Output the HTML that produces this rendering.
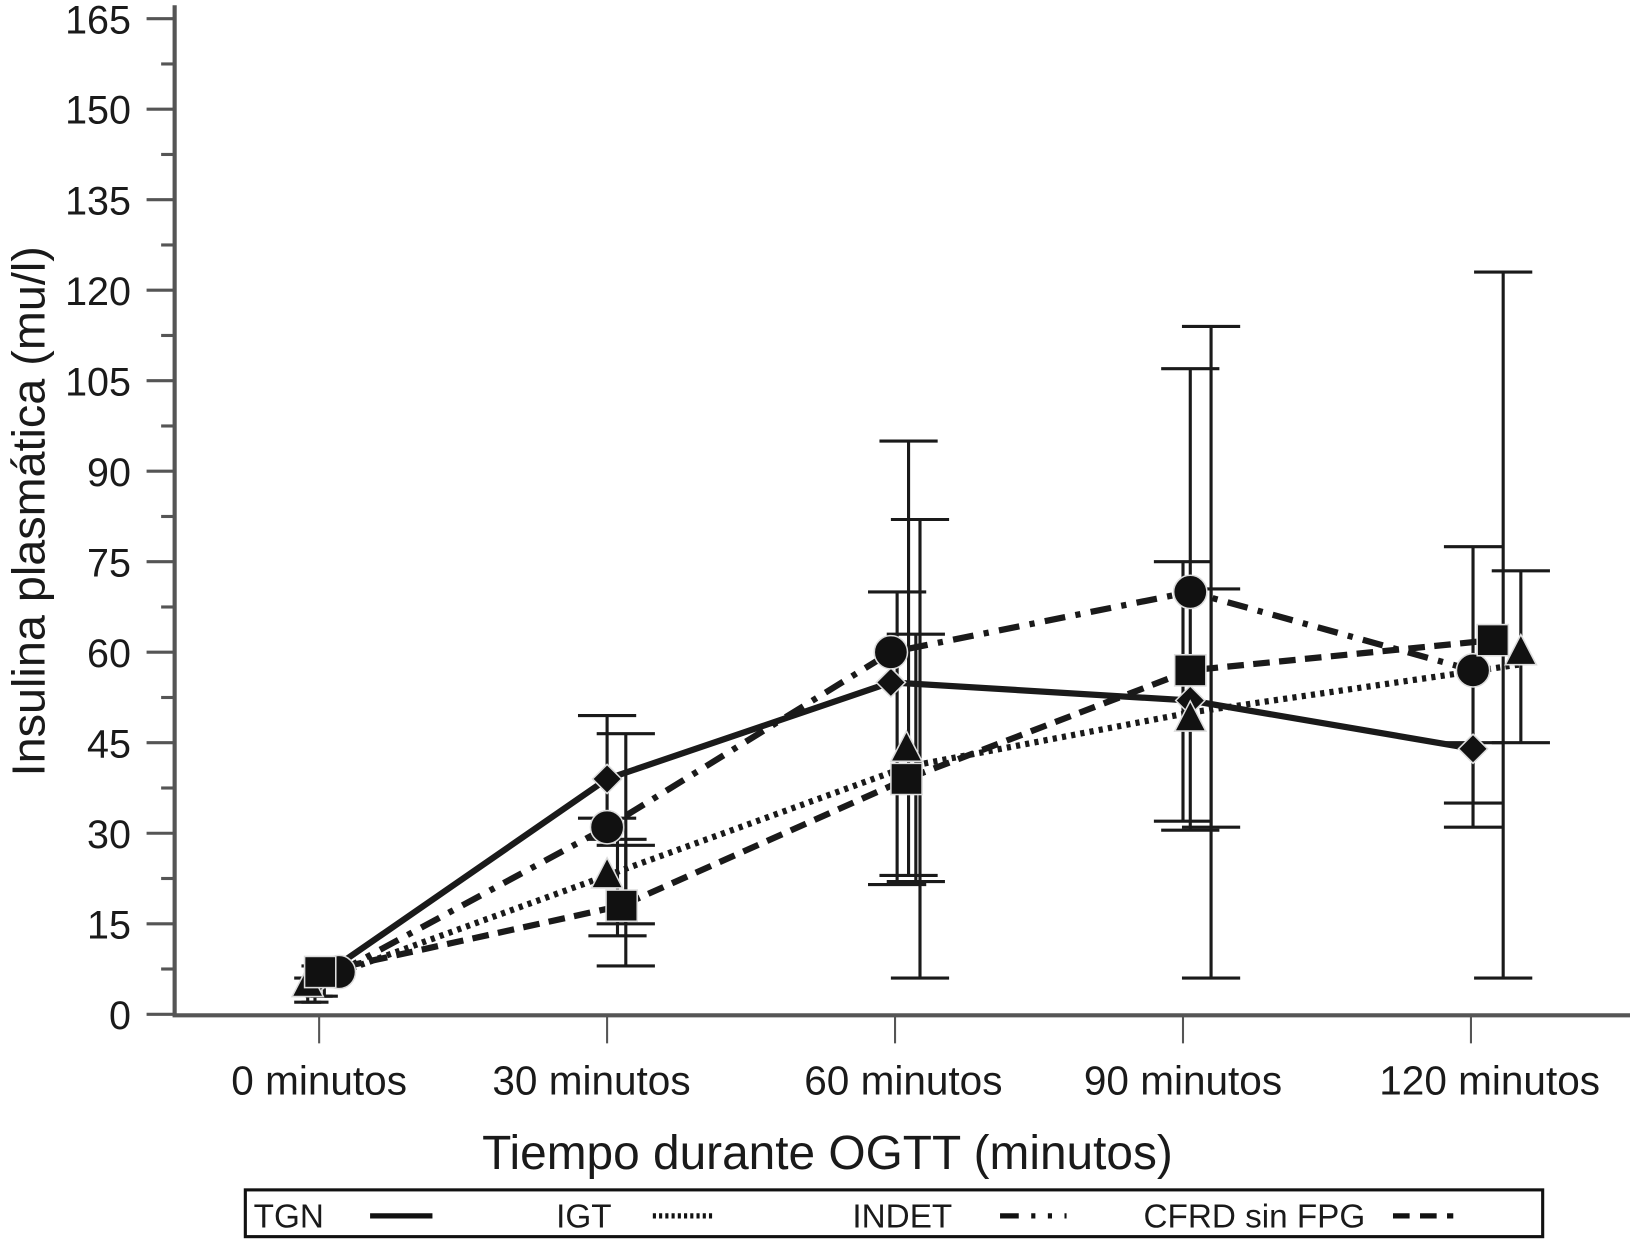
<!DOCTYPE html>
<html><head><meta charset="utf-8"><style>
html,body{margin:0;padding:0;background:#fff}
svg{display:block}
text{font-family:"Liberation Sans",sans-serif;fill:#1a1a1a}
</style></head><body>
<svg width="1630" height="1246" viewBox="0 0 1568 1199" preserveAspectRatio="none" xmlns="http://www.w3.org/2000/svg">
<g id="axes"></g>
<g id="errs"></g>
<g id="lines"></g>
<g id="marks"></g>
<text x="0" y="0" transform="translate(43,492) rotate(-90)" text-anchor="middle" font-size="45">Insulina plasmática (mu/l)</text>
<text x="796" y="1125" text-anchor="middle" font-size="46">Tiempo durante OGTT (minutos)</text>
<g>
<rect x="236" y="1145" width="1248" height="45" fill="none" stroke="#111" stroke-width="3"/>
<text x="244" y="1181" font-size="32">TGN</text>
<line x1="356" y1="1170" x2="416" y2="1170" stroke="#111" stroke-width="5"/>
<text x="535" y="1181" font-size="32">IGT</text>
<line x1="628" y1="1170" x2="686" y2="1170" stroke="#111" stroke-width="5" stroke-dasharray="3 3"/>
<text x="820" y="1181" font-size="32">INDET</text>
<line x1="962" y1="1170" x2="1026" y2="1170" stroke="#111" stroke-width="5" stroke-dasharray="18 12 4 12 4 12"/>
<text x="1100" y="1181" font-size="32">CFRD sin FPG</text>
<line x1="1340" y1="1170" x2="1398" y2="1170" stroke="#111" stroke-width="5" stroke-dasharray="16 10"/>
</g>
</svg>
<script>
const categories=["0 minutos","30 minutos","60 minutos","90 minutos","120 minutos"];
const yTicks=[0,15,30,45,60,75,90,105,120,135,150,165];
const tgn=[6,39,55,52,44];
const igt=[5,23,41,50,58];
const indet=[7,31,60,70,57];
const cfrd=[7,18,39,57,62];
const igtMarks=[5,23,44,49,60];
const tgnLow=[3,32.5,21.5,32,31];
const tgnHigh=[7,49.5,70,75,45];
const igtLow=[2,13,6,6,45];
const igtHigh=[6,29,82,70.5,73.5];
const indetLow=[3,15,23,31,35];
const indetHigh=[8,46.5,95,114,77.5];
const cfrdLow=[2,8,22,30.5,6];
const cfrdHigh=[8,28,63,107,123];
</script>
<script>
const NS="http://www.w3.org/2000/svg";
const X0=168,Y0=976,Y165=18;
const y=v=>Y0-(v/165)*(Y0-Y165);
const x=i=>307+277*i;
function mk(tag,attrs,parent){const e=document.createElementNS(NS,tag);for(const k in attrs)e.setAttribute(k,attrs[k]);parent.appendChild(e);return e;}
const axes=document.getElementById('axes');
let el=mk('line',{x1:X0,y1:5,x2:X0,y2:978,stroke:'#555','stroke-width':4},axes);


el=mk('line',{x1:X0-2,y1:977,x2:1568,y2:977,stroke:'#555','stroke-width':4},axes);


yTicks.forEach(v=>{
  mk('line',{x1:X0-27,y1:y(v),x2:X0,y2:y(v),stroke:'#555','stroke-width':3},axes);
  if(v<165) mk('line',{x1:X0-13,y1:y(v+7.5),x2:X0,y2:y(v+7.5),stroke:'#555','stroke-width':3},axes);
  const t=mk('text',{x:X0-42,y:y(v)+14,'text-anchor':'end','font-size':38},axes);
  t.textContent=v;
  
  
});
const labelShift=[0,-15,8,0,18];
categories.forEach((c,i)=>{
  mk('line',{x1:x(i),y1:977,x2:x(i),y2:1004,stroke:'#555','stroke-width':2},axes);
  const t=mk('text',{x:x(i)+labelShift[i],y:1053,'text-anchor':'middle','font-size':39},axes);
  t.textContent=c;
  
  
});
// layout offsets (pixels) for markers and error bars
const series=[
 {name:'tgn',v:tgn,m:tgn,lo:tgnLow,hi:tgnHigh,dash:'none',shape:'diamond',mo:[0,0,-4,7,2],eo:[0,0,2,0,2]},
 {name:'igt',v:igt,m:igtMarks,lo:igtLow,hi:igtHigh,dash:'4 5',shape:'triangle',mo:[-11,0,11,7,48],eo:[-11,10,24,27,48]},
 {name:'indet',v:indet,m:indet,lo:indetLow,hi:indetHigh,dash:'20 10 5 10',shape:'circle',mo:[19,0,-4,7,2],eo:[5,18,13,27,2]},
 {name:'cfrd',v:cfrd,m:cfrd,lo:cfrdLow,hi:cfrdHigh,dash:'16 9',shape:'square',mo:[1,14,11,7,21],eo:[-4,18,20,7,31]}
];
const errs=document.getElementById('errs'),lines=document.getElementById('lines'),marks=document.getElementById('marks');
series.forEach(s=>{
  s.v.forEach((v,i)=>{
    const ex=x(i)+s.eo[i];
    const g=mk('g',{stroke:'#1a1a1a','stroke-width':3},errs);
    
    
    mk('line',{x1:ex,y1:y(s.lo[i]),x2:ex,y2:y(s.hi[i])},g);
    const w=i==0?13:28;
    mk('line',{x1:ex-w,y1:y(s.lo[i]),x2:ex+w,y2:y(s.lo[i])},g);
    mk('line',{x1:ex-w,y1:y(s.hi[i]),x2:ex+w,y2:y(s.hi[i])},g);
  });
  const pts=s.v.map((v,i)=>(x(i)+s.mo[i])+','+y(v)).join(' ');
  const pl=mk('polyline',{points:pts,fill:'none',stroke:'#1a1a1a','stroke-width':6,'stroke-dasharray':s.dash},lines);
  
  
});
series.forEach(s=>{
  s.m.forEach((v,i)=>{
    const cx=x(i)+s.mo[i],cy=y(v);let e;
    const st={fill:'#111',stroke:'#ddd','stroke-width':1.5};
    if(s.shape=='circle')e=mk('circle',Object.assign({cx:cx,cy:cy,r:16},st),marks);
    else if(s.shape=='square')e=mk('rect',Object.assign({x:cx-15,y:cy-15,width:30,height:30},st),marks);
    else if(s.shape=='diamond')e=mk('polygon',Object.assign({points:`${cx},${cy-14} ${cx+14},${cy} ${cx},${cy+14} ${cx-14},${cy}`},st),marks);
    else e=mk('polygon',Object.assign({points:`${cx},${cy-17} ${cx+15},${cy+12} ${cx-15},${cy+12}`},st),marks);
    
    
  });
});
</script>
</body></html>
